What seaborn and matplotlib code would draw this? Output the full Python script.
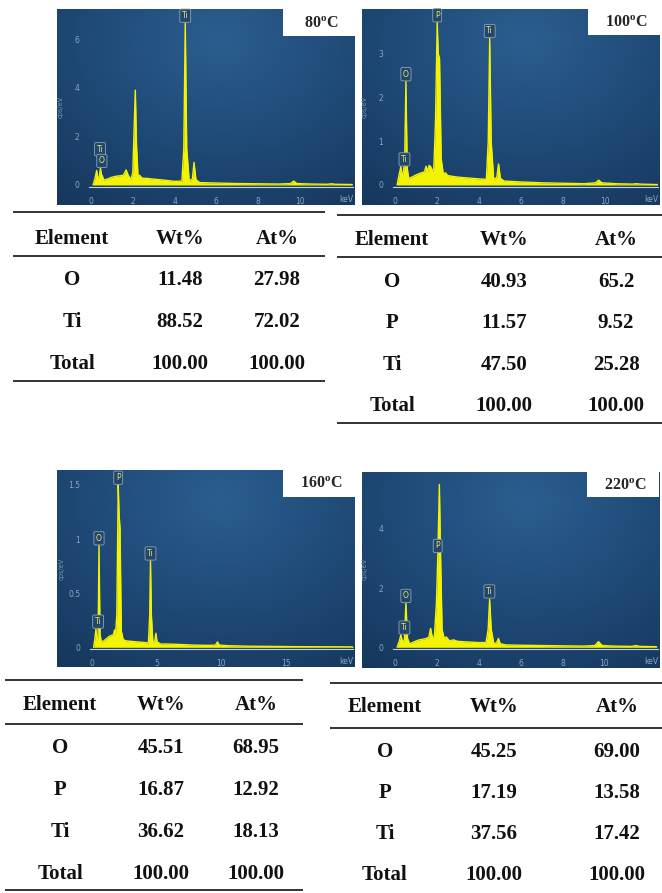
import numpy as np
import matplotlib
matplotlib.use('Agg')
import matplotlib.pyplot as plt
from matplotlib.colors import LinearSegmentedColormap
from matplotlib.ticker import MultipleLocator
from matplotlib.patches import Rectangle
import seaborn as sns

sns.set_style('white')
plt.rcParams['font.family'] = ['DejaVu Sans']
plt.rcParams['mathtext.fontset'] = 'custom'
plt.rcParams['mathtext.rm'] = 'Liberation Serif:bold'
plt.rcParams['mathtext.bf'] = 'Liberation Serif:bold'

W, H = 662, 893

# ---- spectra (keV, cps/eV) ----
kev_80 = [0.10, 0.20, 0.27, 0.33, 0.40, 0.45, 0.50, 0.55, 0.62, 0.80,
          1.00, 1.20, 1.40, 1.55, 1.68, 1.78, 1.90, 2.00, 2.07, 2.12,
          2.18, 2.25, 2.32, 2.45, 2.70, 3.00, 3.50, 4.00, 4.35, 4.44,
          4.51, 4.58, 4.70, 4.85, 4.93, 5.02, 5.20, 6.00, 7.00, 8.00,
          9.00, 9.55, 9.70, 9.85, 10.5, 11.3, 11.5, 11.7, 12.5]
cps_80 = [0.00, 0.30, 0.60, 0.25, 0.35, 0.70, 0.45, 0.35, 0.20, 0.25,
          0.32, 0.36, 0.38, 0.40, 0.62, 0.40, 0.22, 0.50, 2.50, 3.90,
          1.60, 0.35, 0.40, 0.28, 0.27, 0.24, 0.20, 0.15, 0.16, 1.50,
          6.65, 1.50, 0.16, 0.25, 0.93, 0.22, 0.10, 0.08, 0.06, 0.05,
          0.04, 0.06, 0.16, 0.06, 0.04, 0.03, 0.05, 0.03, 0.02]

kev_100 = [0.10, 0.20, 0.28, 0.34, 0.40, 0.46, 0.52, 0.58, 0.65, 0.80,
           1.00, 1.20, 1.40, 1.48, 1.55, 1.62, 1.70, 1.78, 1.85, 1.93,
           2.01, 2.06, 2.12, 2.20, 2.30, 2.40, 2.50, 2.70, 3.00, 3.50,
           4.00, 4.35, 4.44, 4.51, 4.58, 4.70, 4.85, 4.93, 5.02, 5.20,
           6.00, 7.00, 8.00, 9.00, 9.55, 9.70, 9.85, 10.5, 11.3, 11.5,
           11.7, 12.5]
cps_100 = [0.00, 0.25, 0.42, 0.20, 0.30, 0.55, 2.37, 0.40, 0.15, 0.18,
           0.23, 0.27, 0.30, 0.43, 0.30, 0.45, 0.42, 0.30, 0.40, 1.50,
           3.72, 3.00, 2.90, 0.60, 0.25, 0.28, 0.22, 0.20, 0.18, 0.16,
           0.14, 0.13, 1.00, 3.36, 1.00, 0.12, 0.18, 0.48, 0.15, 0.09,
           0.07, 0.05, 0.04, 0.03, 0.05, 0.11, 0.05, 0.03, 0.02, 0.03,
           0.02, 0.01]

kev_160 = [0.10, 0.20, 0.28, 0.36, 0.45, 0.52, 0.60, 0.70, 0.90, 1.10,
           1.30, 1.50, 1.65, 1.72, 1.80, 1.90, 2.01, 2.08, 2.15, 2.25,
           2.40, 2.60, 3.00, 3.50, 4.00, 4.35, 4.45, 4.51, 4.58, 4.70,
           4.85, 4.93, 5.02, 5.30, 6.00, 7.00, 8.00, 9.00, 9.55, 9.70,
           9.85, 10.5, 11.5, 12.0, 14.0, 16.0, 18.0, 20.5]
cps_160 = [0.00, 0.08, 0.17, 0.06, 0.10, 0.94, 0.12, 0.05, 0.06, 0.08,
           0.10, 0.11, 0.12, 0.16, 0.12, 0.30, 1.50, 1.22, 1.10, 0.15,
           0.07, 0.06, 0.055, 0.05, 0.045, 0.04, 0.30, 0.80, 0.30, 0.04,
           0.06, 0.13, 0.05, 0.03, 0.03, 0.025, 0.02, 0.018, 0.02, 0.05,
           0.02, 0.015, 0.012, 0.01, 0.008, 0.006, 0.005, 0.004]

kev_220 = [0.10, 0.20, 0.28, 0.36, 0.45, 0.52, 0.60, 0.70, 0.90, 1.10,
           1.30, 1.50, 1.62, 1.70, 1.78, 1.88, 1.98, 2.05, 2.12, 2.18,
           2.25, 2.35, 2.45, 2.60, 2.80, 3.00, 3.50, 4.00, 4.35, 4.45,
           4.52, 4.60, 4.72, 4.85, 4.94, 5.03, 5.30, 6.00, 7.00, 8.00,
           9.00, 9.55, 9.72, 9.90, 10.5, 11.3, 11.5, 11.7, 12.5]
cps_220 = [0.00, 0.20, 0.42, 0.18, 0.25, 1.49, 0.30, 0.12, 0.18, 0.24,
           0.27, 0.30, 0.35, 0.64, 0.35, 0.35, 1.50, 3.20, 5.50, 3.00,
           0.60, 0.30, 0.35, 0.22, 0.25, 0.20, 0.18, 0.16, 0.16, 0.60,
           1.62, 0.60, 0.13, 0.15, 0.30, 0.12, 0.08, 0.07, 0.06, 0.05,
           0.04, 0.06, 0.19, 0.06, 0.04, 0.03, 0.06, 0.03, 0.02]

# peak markers
lab_80 = ['Ti', 'Ti', 'O']
lab_kev_80 = [4.51, 0.43, 0.52]
lab_cps_80 = [6.66, 1.17, 0.69]
lab_100 = ['P', 'Ti', 'O', 'Ti']
lab_kev_100 = [2.01, 4.51, 0.52, 0.45]
lab_cps_100 = [3.72, 3.36, 2.37, 0.42]
lab_160 = ['P', 'O', 'Ti', 'Ti']
lab_kev_160 = [2.01, 0.52, 4.51, 0.45]
lab_cps_160 = [1.50, 0.94, 0.80, 0.17]
lab_220 = ['P', 'Ti', 'O', 'Ti']
lab_kev_220 = [2.04, 4.51, 0.52, 0.45]
lab_cps_220 = [3.18, 1.64, 1.49, 0.42]

# ---- composition tables ----
elem_80 = ['O', 'Ti', 'Total']
wt_80 = ['11.48', '88.52', '100.00']
at_80 = ['27.98', '72.02', '100.00']
elem_100 = ['O', 'P', 'Ti', 'Total']
wt_100 = ['40.93', '11.57', '47.50', '100.00']
at_100 = ['65.2', '9.52', '25.28', '100.00']
elem_160 = ['O', 'P', 'Ti', 'Total']
wt_160 = ['45.51', '16.87', '36.62', '100.00']
at_160 = ['68.95', '12.92', '18.13', '100.00']
elem_220 = ['O', 'P', 'Ti', 'Total']
wt_220 = ['45.25', '17.19', '37.56', '100.00']
at_220 = ['69.00', '13.58', '17.42', '100.00']
headers = ['Element', 'Wt%', 'At%']

YEL = '#f3f303'
TICKC = '#8ea5bd'
bg_cmap = LinearSegmentedColormap.from_list('eds', ['#16365c', '#1f4a77', '#2b5e8f'])

fig = plt.figure(figsize=(W / 100, H / 100), dpi=100)


def px_axes(left, right, top, bottom):
    return fig.add_axes([left / W, 1 - bottom / H, (right - left) / W, (bottom - top) / H])


# background shading for the instrument screenshots
gx, gy = np.meshgrid(np.linspace(0, 1, 200), np.linspace(0, 1, 140))
shade = 1 - np.sqrt(((gx - 0.55) / 0.9) ** 2 + ((gy - 0.15) / 1.1) ** 2)


def spectrum(box, inner, cal, kev, cps, labs, lkev, lcps, xmaj, xlab, xend,
             ymaj, ylab, ymin_step, ytop_tick):
    bg = px_axes(*box)
    bg.imshow(shade, extent=[0, 1, 0, 1], aspect='auto', cmap=bg_cmap,
              vmin=0, vmax=1, origin='upper')
    bg.set_axis_off()

    left, right, top, bottom = inner
    x0, sx, y0, sy = cal
    ax = px_axes(*inner)
    ax.patch.set_alpha(0)
    ax.fill_between(kev, cps, 0, color=YEL, lw=0, zorder=2)
    sns.lineplot(x=kev, y=cps, ax=ax, color=YEL, lw=1.0, sort=False,
                 estimator=None, zorder=3)
    ax.set_xlim((left - x0) / sx, (right - x0) / sx)
    ax.set_ylim((y0 - bottom) / sy, (y0 - top) / sy)

    for t, kx, ky in zip(labs, lkev, lcps):
        ax.annotate(t, (kx, ky), xytext=(0, 2.0), textcoords='offset points',
                    ha='center', va='bottom', fontsize=5.5, color='#e2ea6a',
                    zorder=5,
                    bbox=dict(boxstyle='round,pad=0.28,rounding_size=0.2',
                              fc='#22466c', ec='#8ea3b8', lw=0.6))

    for s in ['top', 'right', 'left']:
        ax.spines[s].set_visible(False)
    ax.spines['bottom'].set_color('#c8d4e0')
    ax.spines['bottom'].set_linewidth(0.8)

    ax.set_xticks(xmaj)
    ax.set_xticklabels(xlab)
    ax.xaxis.set_minor_locator(MultipleLocator(0.5))
    ax.set_yticks([v for v in np.arange(0, ytop_tick + 1e-6, ymin_step)], minor=True)
    ax.set_yticks(ymaj)
    ax.set_yticklabels(ylab)
    ax.tick_params(axis='x', which='major', direction='out', length=5, width=0.8,
                   color='#c8d4e0', labelsize=5.5, labelcolor=TICKC, pad=2.5)
    ax.tick_params(axis='x', which='minor', direction='out', length=2.5, width=0.7,
                   color='#c8d4e0')
    ax.tick_params(axis='y', which='major', direction='out', length=5, width=0.8,
                   color='#a9bbcd', labelsize=5.5, labelcolor=TICKC, pad=2)
    ax.tick_params(axis='y', which='minor', direction='out', length=2.5, width=0.7,
                   color='#a9bbcd')
    ax.set_xlabel('')
    ax.set_ylabel('cps/eV', fontsize=4.8, color='#7d94ac')
    ax.yaxis.set_label_coords(-25 / (right - left), 0.45)
    ax.text(1.0, -12 / (bottom - top), 'keV', transform=ax.transAxes, ha='right',
            va='center', fontsize=5.5, color=TICKC)
    return ax


spectrum((57, 355, 9, 205), (89, 353, 9, 187), (91, 20.9, 185, 24.33),
         kev_80, cps_80, lab_80, lab_kev_80, lab_cps_80,
         [0, 2, 4, 6, 8, 10, 12], ['0', '2', '4', '6', '8', '10', ''], 12,
         [0, 2, 4, 6], ['0', '2', '4', '6'], 0.5, 7.0)
spectrum((362, 660, 9, 205), (393, 658, 9, 187), (395, 21.0, 185, 43.67),
         kev_100, cps_100, lab_100, lab_kev_100, lab_cps_100,
         [0, 2, 4, 6, 8, 10, 12], ['0', '2', '4', '6', '8', '10', ''], 12,
         [0, 1, 2, 3], ['0', '1', '2', '3'], 0.2, 3.8)
spectrum((57, 355, 470, 667), (90, 353, 470, 649), (92.3, 12.9, 647.3, 108.2),
         kev_160, cps_160, lab_160, lab_kev_160, lab_cps_160,
         [0, 5, 10, 15, 20], ['0', '5', '10', '15', ''], 20,
         [0, 0.5, 1, 1.5], ['0', '0.5', '1', '1.5'], 0.1, 1.6)
spectrum((362, 660, 472, 668), (393, 658, 472, 649), (395, 20.93, 647.3, 29.6),
         kev_220, cps_220, lab_220, lab_kev_220, lab_cps_220,
         [0, 2, 4, 6, 8, 10, 12], ['0', '2', '4', '6', '8', '10', ''], 12,
         [0, 2, 4], ['0', '2', '4'], 0.25, 5.75)

# overlay in pixel units for captions and tables
ov = fig.add_axes([0, 0, 1, 1])
ov.set_xlim(0, W)
ov.set_ylim(H, 0)
ov.set_axis_off()
ov.patch.set_alpha(0)

temps = ['80', '100', '160', '220']
temp_boxes = [(283, 355, 9, 36), (588, 660, 9, 35), (283, 355, 470, 497), (587, 659, 472, 497)]
for t, (l, r, tp, b) in zip(temps, temp_boxes):
    ov.add_patch(Rectangle((l, tp), r - l, b - tp, fc='white', ec='none', zorder=5))
    ov.text((l + r) / 2 + 2, (tp + b) / 2 + 1, t + r'$^{\mathbf{o}}$C', ha='center',
            va='center', fontsize=11.5, fontweight='bold', family='Liberation Serif',
            zorder=6)

LINEC = '#333333'
tables = [
    dict(el=elem_80, wt=wt_80, at=at_80, l=13, r=325, cols=[72, 180, 277],
         top=212, head=237, hline=256, row0=278, step=42, bot=381),
    dict(el=elem_100, wt=wt_100, at=at_100, l=337, r=662, cols=[392, 504, 616],
         top=215, head=238, hline=257, row0=280, step=41.3, bot=423),
    dict(el=elem_160, wt=wt_160, at=at_160, l=5, r=303, cols=[60, 161, 256],
         top=680, head=703, hline=724, row0=746, step=42, bot=890),
    dict(el=elem_220, wt=wt_220, at=at_220, l=330, r=662, cols=[385, 494, 617],
         top=683, head=705, hline=728, row0=750, step=41, bot=None),
]
tkw = dict(ha='center', va='baseline', fontsize=15, fontweight='bold',
           family='Liberation Serif', color='#111111')
for tb in tables:
    for yy in [tb['top'], tb['hline'], tb['bot']]:
        if yy is not None:
            ov.plot([tb['l'], tb['r']], [yy, yy], color=LINEC, lw=1.4,
                    solid_capstyle='butt')
    for cx, h in zip(tb['cols'], headers):
        ov.text(cx, tb['head'] + 7, h, **tkw)
    for i, (e, w, a) in enumerate(zip(tb['el'], tb['wt'], tb['at'])):
        yy = tb['row0'] + i * tb['step'] + 7
        ov.text(tb['cols'][0], yy, e, **tkw)
        ov.text(tb['cols'][1], yy, w, **tkw)
        ov.text(tb['cols'][2], yy, a, **tkw)

fig.savefig('out.png', dpi=100, facecolor='white')
